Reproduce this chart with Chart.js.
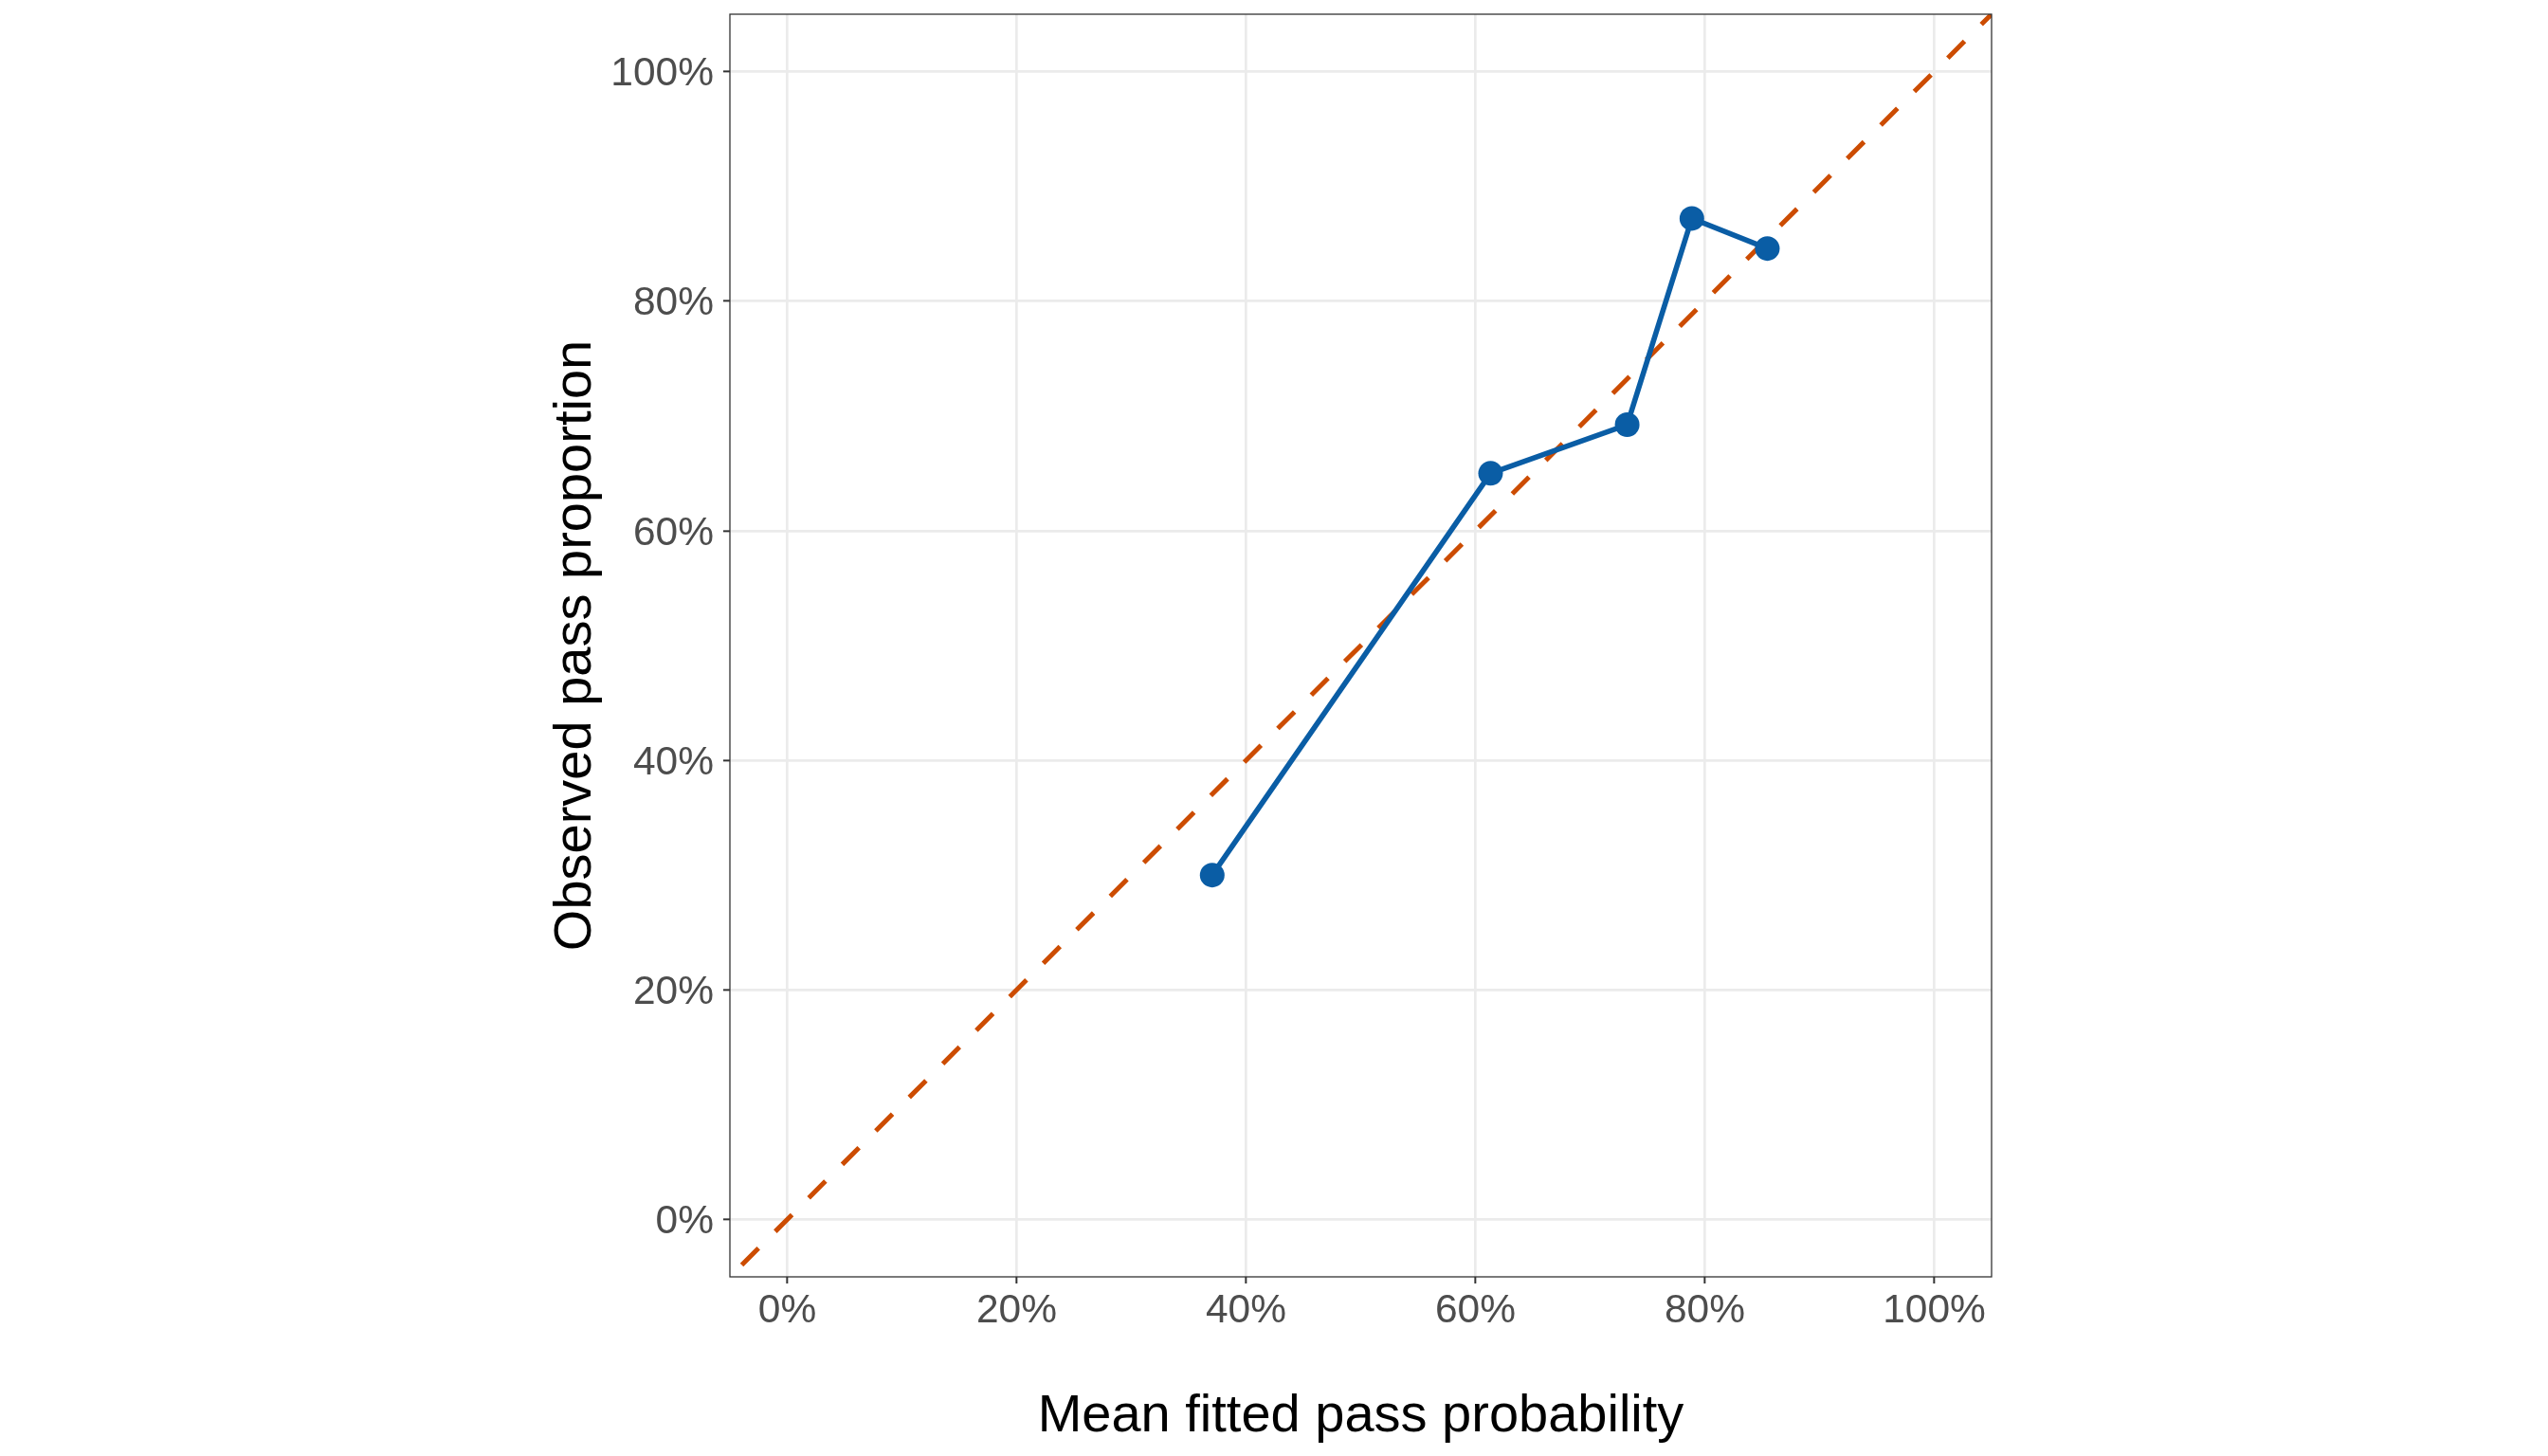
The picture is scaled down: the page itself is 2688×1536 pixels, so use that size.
<!DOCTYPE html>
<html><head><meta charset="utf-8">
<script src="https://cdn.jsdelivr.net/npm/chart.js@4.4.1/dist/chart.umd.min.js"></script>
<style>html,body{margin:0;padding:0;background:#fff;}canvas{display:block;}</style>
</head><body>
<canvas id="c" width="2688" height="1536" style="width:2688px;height:1536px"></canvas>
<script>
// ---- data ----
const fittedPct   = [37.05, 61.32, 73.23, 78.87, 85.45];
const observedPct = [30.0, 65.0, 69.24, 87.21, 84.59];
const identityX   = [-5, 105];
const identityY   = [-5, 105];
const tickValues  = [0, 20, 40, 60, 80, 100];
const xTitle = 'Mean fitted pass probability';
const yTitle = 'Observed pass proportion';

const BLUE = '#0A5DA5';
const ORANGE = '#CC4C02';
const FONT = "'Liberation Sans', Arial, Helvetica, sans-serif";

const calib = fittedPct.map((x, i) => ({x: x, y: observedPct[i]}));
const ident = identityX.map((x, i) => ({x: x, y: identityY[i]}));

const panelBorder = {
  id: 'panelBorder',
  afterDraw(chart) {
    const a = chart.chartArea, ctx = chart.ctx;
    ctx.save();
    ctx.strokeStyle = '#333333';
    ctx.lineWidth = 1.3;
    ctx.strokeRect(a.left, a.top, a.right - a.left, a.bottom - a.top);
    ctx.restore();
  }
};

function fixedTicks(scale) {
  scale.ticks = tickValues.map(v => ({value: v}));
}

new Chart(document.getElementById('c'), {
  type: 'scatter',
  data: {
    datasets: [
      {
        data: calib,
        showLine: true,
        borderColor: BLUE,
        backgroundColor: BLUE,
        borderWidth: 5.6,
        pointRadius: 13,
        pointHoverRadius: 13,
        pointBorderWidth: 0,
        pointBackgroundColor: BLUE,
        tension: 0,
        order: 0
      },
      {
        data: ident,
        showLine: true,
        borderColor: ORANGE,
        borderWidth: 5,
        borderDash: [25, 25],
        borderDashOffset: 32.3,
        pointRadius: 0,
        pointHoverRadius: 0,
        tension: 0,
        clip: 0,
        order: 1
      }
    ]
  },
  options: {
    responsive: false,
    devicePixelRatio: 1,
    animation: false,
    events: [],
    layout: { padding: { top: 15, right: 587, bottom: 0, left: 0 } },
    plugins: { legend: { display: false }, tooltip: { enabled: false } },
    scales: {
      x: {
        type: 'linear', min: -5, max: 105,
        afterBuildTicks: fixedTicks,
        afterFit(s) { s.height = 189; s.paddingLeft = 0; s.paddingRight = 0; },
        grid: { color: '#EBEBEB', lineWidth: 2.7, tickColor: '#333333', tickWidth: 2, tickLength: 7, drawTicks: true },
        border: { display: false },
        ticks: { autoSkip: false, maxRotation: 0, padding: 4, color: '#4D4D4D',
                 font: { family: FONT, size: 42.5 }, callback: v => v + '%' },
        title: { display: true, text: xTitle, color: '#000000',
                 font: { family: FONT, size: 56, lineHeight: 1.2 }, padding: { top: 0, bottom: 8 } }
      },
      y: {
        type: 'linear', min: -5, max: 105,
        afterBuildTicks: fixedTicks,
        afterFit(s) { s.width = 770; s.paddingTop = 0; s.paddingBottom = 0; },
        grid: { color: '#EBEBEB', lineWidth: 2.7, tickColor: '#333333', tickWidth: 2, tickLength: 7, drawTicks: true },
        border: { display: false },
        ticks: { autoSkip: false, padding: 10, color: '#4D4D4D', labelOffset: 3,
                 font: { family: FONT, size: 42.5 }, callback: v => v + '%' },
        title: { display: true, text: yTitle, color: '#000000',
                 font: { family: FONT, size: 56, lineHeight: 1.2 }, padding: { top: 574, bottom: 0 } }
      }
    }
  },
  plugins: [panelBorder]
});
</script>
</body></html>
